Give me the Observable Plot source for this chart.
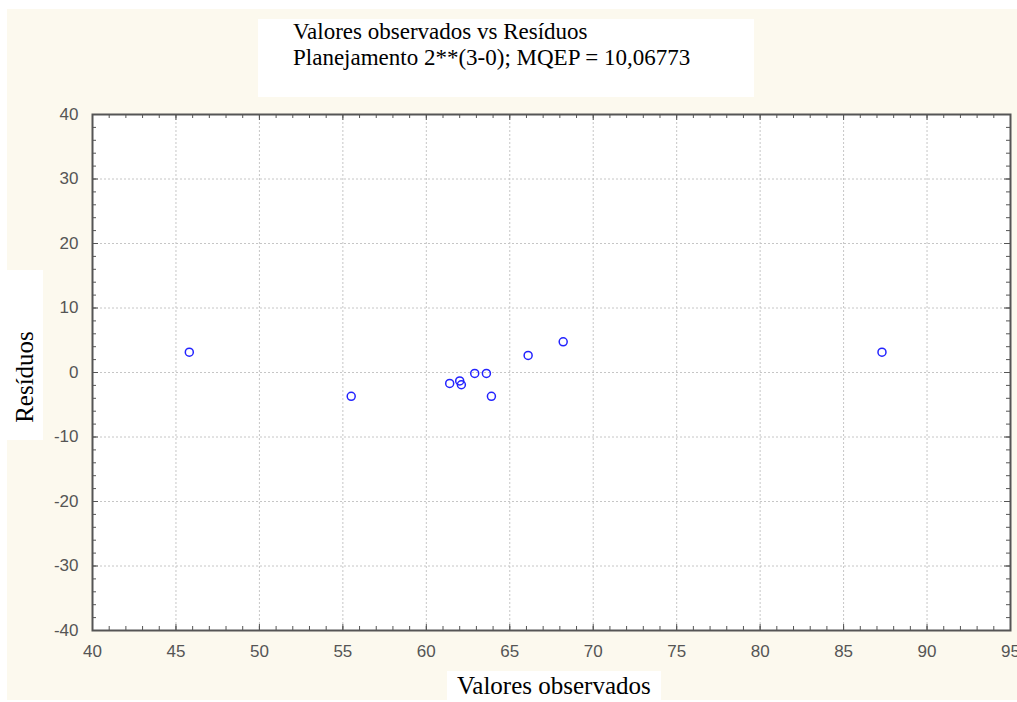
<!DOCTYPE html>
<html>
<head>
<meta charset="utf-8">
<script src="https://cdn.jsdelivr.net/npm/d3@7"></script>
<script src="https://cdn.jsdelivr.net/npm/@observablehq/plot@0.6"></script>
<style>
  html, body { margin: 0; padding: 0; background: #fff; overflow: hidden; }
  #wrap { position: relative; width: 1017px; height: 702px; }
  #panel { position: absolute; left: 7px; top: 9px; width: 1010px; height: 691px; background: #fcf9ee; }
  #chart { position: absolute; left: 0; top: 0; }
  .box { position: absolute; background: #fff; font-family: "Liberation Serif", "Times New Roman", serif; color: #000; }
  #title { left: 258px; top: 19px; width: 496px; height: 78px; font-size: 23px; line-height: 26px; }
  #title div { position: relative; left: 35px; top: 0px; white-space: nowrap; }
  #xlab { left: 447px; top: 671px; width: 214px; height: 31px; font-size: 25px; }
  #xlab span { position: absolute; left: 10px; top: 1px; white-space: nowrap; }
  #ylab { left: 7px; top: 270px; width: 36px; height: 170px; }
  #ylab span { position: absolute; left: 18px; top: 107px; transform: translate(-50%, -50%) rotate(-90deg); font-size: 25px; white-space: nowrap; }
</style>
</head>
<body>
<div id="wrap">
  <div id="panel"></div>
  <div id="chart"></div>
  <div class="box" id="title">
    <div>Valores observados vs Resíduos</div>
    <div>Planejamento 2**(3-0); MQEP = 10,06773</div>
  </div>
  <div class="box" id="ylab"><span>Resíduos</span></div>
  <div class="box" id="xlab"><span>Valores observados</span></div>
</div>
<script>
// Observed values and residuals of the 2^3 design (8 runs + 3 center points)
const observed  = [45.8, 55.5, 61.4, 62.0, 62.1, 62.9, 63.6, 63.9, 66.1, 68.2, 87.3];
const residuals = [3.15, -3.7, -1.7, -1.3, -1.9, -0.15, -0.15, -3.7, 2.65, 4.75, 3.15];

// Axis ranges and tick values
const xDomain = [40, 95];
const yDomain = [-40, 40];
const xMajor = d3.range(40, 96, 5);
const xMinor = d3.range(40, 96, 1);
const yMajor = d3.range(-40, 41, 10);
const yMinor = d3.range(-40, 41, 2);

const points = observed.map((x, i) => ({observed: x, residual: residuals[i]}));

const width = 1017, height = 702;
const margin = {top: 114, right: 7, bottom: 72, left: 92};
const innerW = width - margin.left - margin.right;
const innerH = height - margin.top - margin.bottom;

const axisColor = "#555";
const minorLen = 4, majorLen = 6;
const plainNumber = d => String(d); // hyphen-minus, as in the original software

const chart = Plot.plot({
  width, height,
  marginTop: margin.top, marginRight: margin.right,
  marginBottom: margin.bottom, marginLeft: margin.left,
  style: {background: "transparent", fontFamily: "'Liberation Sans', Arial, sans-serif", overflow: "visible"},
  x: {domain: xDomain, label: null},
  y: {domain: yDomain, label: null},
  marks: [
    Plot.frame({fill: "#fff", stroke: null}),
    Plot.gridX(xMajor.slice(1, -1), {stroke: "#c6c6c6", strokeOpacity: 1, strokeDasharray: "2,2"}),
    Plot.gridY(yMajor.slice(1, -1), {stroke: "#c6c6c6", strokeOpacity: 1, strokeDasharray: "2,2"}),
    // inward ticks on all four sides
    Plot.ruleX(xMinor, {insetTop: innerH - minorLen, stroke: axisColor}),
    Plot.ruleX(xMinor, {insetBottom: innerH - minorLen, stroke: axisColor}),
    Plot.ruleX(xMajor, {insetTop: innerH - majorLen, stroke: axisColor}),
    Plot.ruleX(xMajor, {insetBottom: innerH - majorLen, stroke: axisColor}),
    Plot.ruleY(yMinor, {insetRight: innerW - minorLen, stroke: axisColor}),
    Plot.ruleY(yMinor, {insetLeft: innerW - minorLen, stroke: axisColor}),
    Plot.ruleY(yMajor, {insetRight: innerW - majorLen, stroke: axisColor}),
    Plot.ruleY(yMajor, {insetLeft: innerW - majorLen, stroke: axisColor}),
    Plot.frame({stroke: axisColor, strokeWidth: 2}),
    Plot.axisX(xMajor, {anchor: "bottom", tickSize: 0, tickPadding: 14, fontSize: 17, fill: "#555", label: null, tickFormat: plainNumber}),
    Plot.axisY(yMajor, {anchor: "left", tickSize: 0, tickPadding: 14, fontSize: 17, fill: "#555", label: null, tickFormat: plainNumber}),
    Plot.dot(points, {x: "observed", y: "residual", r: 4, stroke: "#2323ff", strokeWidth: 1.5, fill: "none"})
  ]
});
document.getElementById("chart").appendChild(chart);
</script>
</body>
</html>
